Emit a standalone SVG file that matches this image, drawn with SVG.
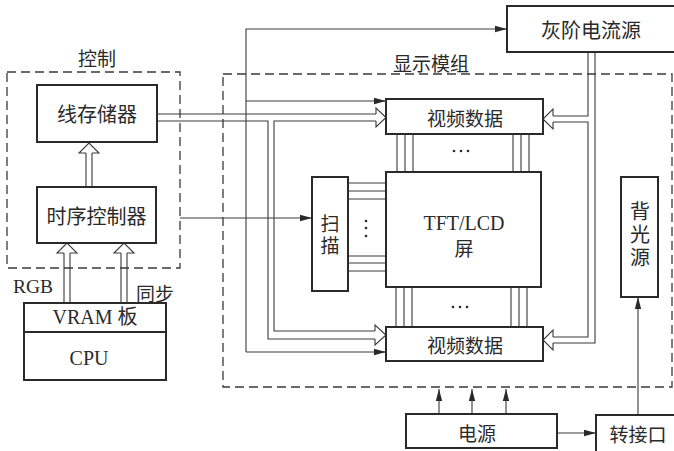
<svg xmlns="http://www.w3.org/2000/svg" width="674" height="451" viewBox="0 0 674 451">
<defs>
<style>
.box{fill:#fff;stroke:#2a2a2a;stroke-width:2}
.dash{fill:none;stroke:#3a3a3a;stroke-width:1.3;stroke-dasharray:9,5}
.ln{fill:none;stroke:#3a3a3a;stroke-width:1.1}
.thin{fill:none;stroke:#3a3a3a;stroke-width:1.1}
.hd{fill:#fff;stroke:#3a3a3a;stroke-width:1.1}
.cjk{font-family:"Noto Sans CJK SC","Noto Sans",sans-serif;font-size:19px;fill:#2a2a2a;text-anchor:middle;dominant-baseline:central}
.vert{font-family:"Noto Sans CJK SC","Noto Sans",sans-serif;font-size:19px;fill:#2a2a2a;text-anchor:middle;writing-mode:vertical-rl}
.lat{font-family:"Liberation Serif","Noto Sans CJK SC",serif;font-size:20px;fill:#2a2a2a;text-anchor:middle}
.dot{fill:#2a2a2a}
</style>
<marker id="arr" markerUnits="userSpaceOnUse" markerWidth="12" markerHeight="8" refX="12" refY="4" orient="auto">
<path d="M0,0.8 L12,4 L0,7.2 z" fill="#2a2a2a"/>
</marker>
</defs>
<rect width="674" height="451" fill="#fff"/>

<!-- dashed regions -->
<g id="control-region">
<rect class="dash" x="7" y="72" width="173" height="196"/>
<text class="cjk" x="97" y="57">控制</text>
</g>
<g id="display-region">
<rect class="dash" x="223" y="74" width="449" height="313"/>
<text class="cjk" x="431" y="62">显示模组</text>
</g>

<!-- connectors -->
<g id="connectors">
<polyline class="ln" points="157,114 376,114"/>
<polyline class="ln" points="157,121 268,121 268,339 375,339"/>
<polyline class="ln" points="376,121 274,121 274,331 375,331"/>
<polyline class="hd" points="376,114 376,108 386,117.5 376,127 376,121"/>
<polyline class="hd" points="375,331 375,325 386,335 375,345 375,339"/>
<polyline class="ln" points="588,52 588,116 553,116"/>
<polyline class="ln" points="553,122 588,122 588,337 553,337"/>
<polyline class="ln" points="595,52 595,343 553,343"/>
<polyline class="hd" points="553,116 553,109 543,119 553,129 553,122"/>
<polyline class="hd" points="553,337 553,330 543,340 553,350 553,343"/>
<polyline class="ln" points="86,187 86,153"/>
<polyline class="ln" points="92,187 92,153"/>
<polyline class="hd" points="86,153 79,153 89,143 99,153 92,153"/>
<polyline class="ln" points="64,303 64,253"/>
<polyline class="ln" points="70,303 70,253"/>
<polyline class="hd" points="64,253 57,253 67,243 77,253 70,253"/>
<polyline class="ln" points="121,303 121,253"/>
<polyline class="ln" points="127,303 127,253"/>
<polyline class="hd" points="121,253 114,253 124,243 134,253 127,253"/>
<polyline class="thin" points="246,352 246,29 507,29" marker-end="url(#arr)"/>
<line class="thin" x1="246" y1="101" x2="386" y2="101" marker-end="url(#arr)"/>
<line class="thin" x1="246" y1="352" x2="386" y2="352" marker-end="url(#arr)"/>
<line class="thin" x1="180" y1="218" x2="312" y2="218" marker-end="url(#arr)"/>
<g class="ln">
<line x1="397" y1="134" x2="397" y2="172"/><line x1="405" y1="134" x2="405" y2="172"/><line x1="413" y1="134" x2="413" y2="172"/>
<line x1="513" y1="134" x2="513" y2="172"/><line x1="521" y1="134" x2="521" y2="172"/><line x1="529" y1="134" x2="529" y2="172"/>
<line x1="396" y1="287" x2="396" y2="327"/><line x1="404" y1="287" x2="404" y2="327"/><line x1="412" y1="287" x2="412" y2="327"/>
<line x1="511" y1="287" x2="511" y2="327"/><line x1="519" y1="287" x2="519" y2="327"/><line x1="527" y1="287" x2="527" y2="327"/>
<line x1="348" y1="183" x2="386" y2="183"/><line x1="348" y1="191" x2="386" y2="191"/><line x1="348" y1="199" x2="386" y2="199"/>
<line x1="348" y1="256" x2="386" y2="256"/><line x1="348" y1="263" x2="386" y2="263"/><line x1="348" y1="271" x2="386" y2="271"/>
</g>
<circle class="dot" cx="454" cy="151" r="1.3"/><circle class="dot" cx="461" cy="151" r="1.3"/><circle class="dot" cx="468" cy="151" r="1.3"/>
<circle class="dot" cx="453" cy="307" r="1.3"/><circle class="dot" cx="460" cy="307" r="1.3"/><circle class="dot" cx="467" cy="307" r="1.3"/>
<circle class="dot" cx="366" cy="221" r="1.3"/><circle class="dot" cx="366" cy="228" r="1.3"/><circle class="dot" cx="366" cy="236" r="1.3"/>
<line class="thin" x1="439" y1="414" x2="439" y2="389" marker-end="url(#arr)"/>
<line class="thin" x1="472" y1="414" x2="472" y2="389" marker-end="url(#arr)"/>
<line class="thin" x1="506" y1="414" x2="506" y2="389" marker-end="url(#arr)"/>
<line class="thin" x1="557" y1="433" x2="596" y2="433" marker-end="url(#arr)"/>
<line class="thin" x1="638" y1="415" x2="638" y2="297" marker-end="url(#arr)"/>
</g>

<!-- nodes -->
<g id="line-memory"><rect class="box" x="37" y="85" width="120" height="57"/><text class="cjk" x="97" y="113" style="font-size:20px">线存储器</text></g>
<g id="timing-controller"><rect class="box" x="37" y="187" width="119" height="56"/><text class="cjk" x="96.5" y="215" style="font-size:20px">时序控制器</text></g>
<g id="vram-cpu">
<rect class="box" x="24" y="303" width="142" height="77"/>
<line x1="24" y1="332" x2="166" y2="332" stroke="#2a2a2a" stroke-width="2"/>
<text class="lat" x="95" y="324">VRAM 板</text>
<text class="lat" x="89" y="365">CPU</text>
</g>
<g id="labels-rgb"><text class="lat" x="33" y="293" style="font-size:19.5px">RGB</text><text class="cjk" x="155" y="292">同步</text></g>
<g id="grey-source"><rect class="box" x="507" y="6" width="175" height="46"/><text class="cjk" x="591" y="29" style="font-size:20px">灰阶电流源</text></g>
<g id="video-data-top"><rect class="box" x="386" y="99" width="157" height="35"/><text class="cjk" x="465" y="117">视频数据</text></g>
<g id="video-data-bottom"><rect class="box" x="386" y="327" width="157" height="34"/><text class="cjk" x="465" y="344">视频数据</text></g>
<g id="tft-lcd"><rect class="box" x="386" y="172" width="155" height="115"/><text class="lat" x="464" y="230">TFT/LCD</text><text class="cjk" x="464" y="247">屏</text></g>
<g id="scan"><rect class="box" x="312" y="177" width="36" height="114"/><text class="vert" x="330" y="236" letter-spacing="3">扫描</text></g>
<g id="backlight"><rect class="box" x="621" y="177" width="37" height="120"/><text class="vert" x="640" y="236" letter-spacing="3" style="font-size:20px">背光源</text></g>
<g id="power"><rect class="box" x="406" y="414" width="151" height="34"/><text class="cjk" x="477" y="432">电源</text></g>
<g id="adapter"><rect class="box" x="596" y="415" width="90" height="40"/><text class="cjk" x="638" y="433">转接口</text></g>
</svg>
